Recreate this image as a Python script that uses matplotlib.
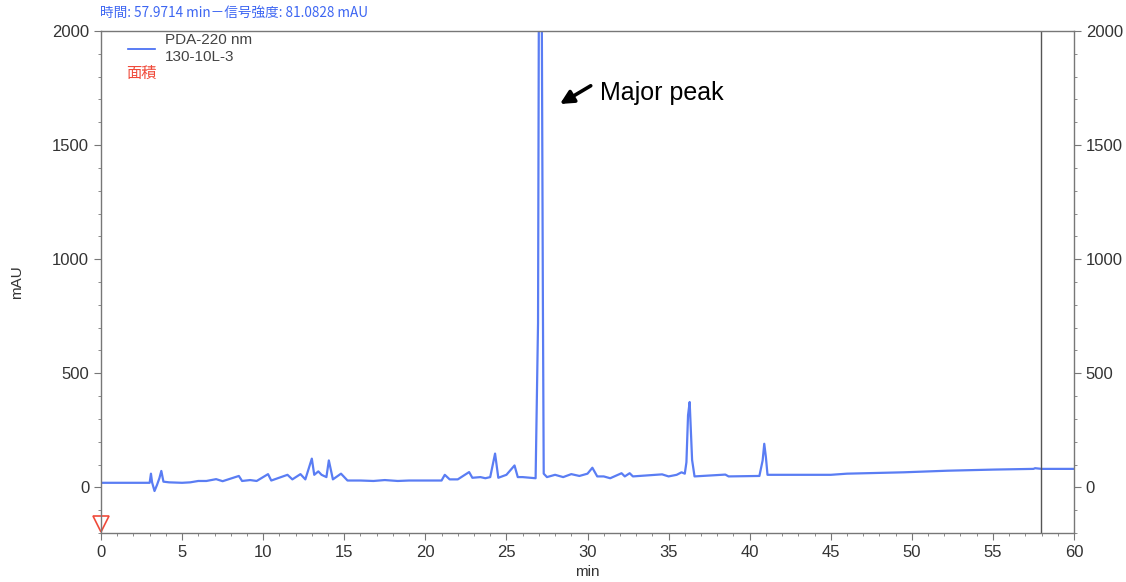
import matplotlib
matplotlib.use("Agg")
import matplotlib.pyplot as plt
from matplotlib.ticker import MultipleLocator

plt.rcParams['font.family'] = ['Liberation Sans', 'Noto Sans CJK JP', 'DejaVu Sans']

# Chromatogram trace (time in min, signal in mAU)
time_min = [0.0, 3.0, 3.08, 3.15, 3.3, 3.45, 3.6, 3.72, 3.85, 4.2, 5.0, 5.5, 6.0, 6.5, 7.1, 7.5,
            8.5, 8.7, 9.2, 9.6, 10.3, 10.5, 11.5, 11.8, 12.3, 12.6, 13.0, 13.15, 13.4, 13.6, 13.9,
            14.05, 14.3, 14.8, 15.2, 16.0, 16.8, 17.5, 18.3, 19.0, 20.0, 21.0, 21.2, 21.5, 22.0,
            22.7, 22.9, 23.4, 23.7, 24.0, 24.3, 24.5, 25.0, 25.5, 25.7, 26.0, 26.8, 26.95, 27.0,
            27.18, 27.25, 27.3, 27.5, 28.0, 28.5, 29.0, 29.5, 30.0, 30.3, 30.6, 31.0, 31.4, 32.1,
            32.3, 32.6, 32.8, 34.6, 35.0, 35.5, 35.8, 36.0, 36.1, 36.2, 36.3, 36.45, 36.6, 38.5,
            38.7, 40.6, 40.8, 40.9, 41.0, 41.1, 45.0, 46.0, 49.5, 52.2, 55.1, 57.5, 57.6, 58.0, 60.0]
signal_mau = [20, 20, 60, 22, -16, 10, 40, 72, 25, 22, 20, 22, 28, 28, 36, 27,
              50, 28, 32, 28, 58, 30, 55, 35, 58, 35, 126, 55, 70, 55, 45,
              118, 35, 60, 30, 30, 28, 32, 28, 30, 30, 30, 55, 35, 35,
              67, 42, 45, 40, 45, 148, 42, 55, 96, 45, 45, 40, 720, 2100,
              2100, 800, 60, 45, 55, 45, 58, 50, 60, 86, 48, 48, 40, 62,
              48, 62, 48, 57, 48, 55, 66, 60, 110, 316, 374, 120, 48, 56,
              48, 50, 118, 191, 133, 55, 55, 60, 66, 73, 78, 81, 84, 81, 81]

legend_lines = ["PDA-220 nm", "130-10L-3"]
area_label = "面積"
header_text = "時間: 57.9714 min－信号強度: 81.0828 mAU"
cursor_time = 57.9714
annotation_text = "Major peak"

x_ticks = [0, 5, 10, 15, 20, 25, 30, 35, 40, 45, 50, 55, 60]
y_ticks = [0, 500, 1000, 1500, 2000]

fig = plt.figure(figsize=(11.26, 5.82), dpi=100)
ax = fig.add_axes([101/1126, 49/582, 973/1126, 502/582])

line_color = '#3d66f2'
ax.plot(time_min, signal_mau, color=line_color, lw=1.6, alpha=0.85, clip_on=True)
ax.set_xlim(0, 60)
ax.set_ylim(-200, 2000)

ax.axvline(cursor_time, color='#555555', lw=1.0)

ax.set_xticks(x_ticks)
ax.set_yticks(y_ticks)
ax.xaxis.set_minor_locator(MultipleLocator(1))
ax.yaxis.set_minor_locator(MultipleLocator(100))

tick_color = '#777777'
for s in ax.spines.values():
    s.set_color('#777777')
    s.set_linewidth(1.0)
ax.tick_params(which='major', direction='out', length=5, color=tick_color,
               labelsize=12, labelcolor='#333333', right=True, labelright=True)
ax.tick_params(which='minor', direction='out', length=2.5, color=tick_color, right=True)

ax.set_xlabel('min', fontsize=11, color='#333333', labelpad=4)
ax.set_ylabel('mAU', fontsize=11, color='#333333', labelpad=20)

# hollow inverted triangle marker at origin
ax.plot([0], [-160], marker='v', markersize=12, markerfacecolor='none',
        markeredgecolor='#f04a3a', markeredgewidth=1.2, clip_on=False)

# legend-like block
fig.add_artist(plt.Line2D([128/1126, 155/1126], [1 - 49/582, 1 - 49/582],
                          color=line_color, lw=1.2))
fig.text(165/1126, 1 - 40/582, legend_lines[0], fontsize=11, color='#444444',
         va='center', ha='left')
fig.text(165/1126, 1 - 57/582, legend_lines[1], fontsize=11, color='#444444',
         va='center', ha='left')
fig.text(126/1126, 1 - 73/582, area_label, fontsize=11, color='#f04a3a',
         va='center', ha='left', family=['Noto Sans CJK JP'])

fig.text(100/1126, 1 - 13/582, header_text, fontsize=9.8, color='#3d66f2',
         va='center', ha='left', family=['Noto Sans CJK JP', 'DejaVu Sans'])

ax.text(30.8, 1730, annotation_text, fontsize=18, color='black', va='center', ha='left')
ax.annotate('', xy=(28.3, 1680), xytext=(30.2, 1760),
            arrowprops=dict(arrowstyle='-|>', color='black', lw=2.6,
                            mutation_scale=20, shrinkA=0, shrinkB=0))

fig.savefig('out.png', dpi=100)
